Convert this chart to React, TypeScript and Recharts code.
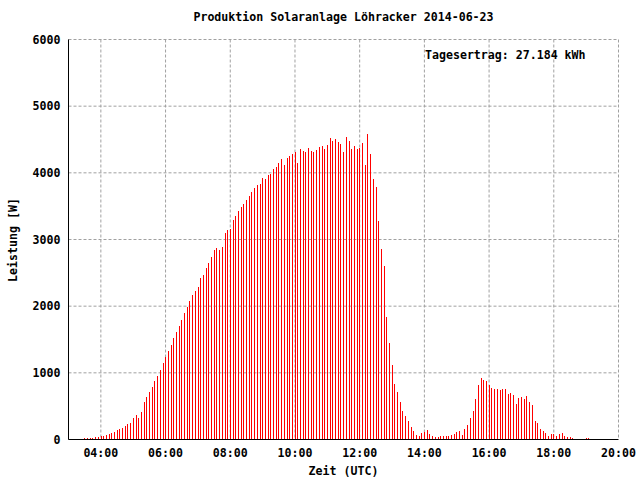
import React from 'react';
import { ComposedChart, Bar, XAxis, YAxis, CartesianGrid } from 'recharts';

const TITLE = 'Produktion Solaranlage Löhracker 2014-06-23';
const DAILY_YIELD = 'Tagesertrag: 27.184 kWh';
const X_TITLE = 'Zeit (UTC)';
const Y_TITLE = 'Leistung [W]';

const TIMES = [
  '03:30', '03:35', '03:40', '03:45', '03:50', '03:55',
  '04:00', '04:05', '04:10', '04:15', '04:20', '04:25', '04:30', '04:35', '04:40', '04:45', '04:50', '04:55',
  '05:00', '05:05', '05:10', '05:15', '05:20', '05:25', '05:30', '05:35', '05:40', '05:45', '05:50', '05:55',
  '06:00', '06:05', '06:10', '06:15', '06:20', '06:25', '06:30', '06:35', '06:40', '06:45', '06:50', '06:55',
  '07:00', '07:05', '07:10', '07:15', '07:20', '07:25', '07:30', '07:35', '07:40', '07:45', '07:50', '07:55',
  '08:00', '08:05', '08:10', '08:15', '08:20', '08:25', '08:30', '08:35', '08:40', '08:45', '08:50', '08:55',
  '09:00', '09:05', '09:10', '09:15', '09:20', '09:25', '09:30', '09:35', '09:40', '09:45', '09:50', '09:55',
  '10:00', '10:05', '10:10', '10:15', '10:20', '10:25', '10:30', '10:35', '10:40', '10:45', '10:50', '10:55',
  '11:00', '11:05', '11:10', '11:15', '11:20', '11:25', '11:30', '11:35', '11:40', '11:45', '11:50', '11:55',
  '12:00', '12:05', '12:10', '12:15', '12:20', '12:25', '12:30', '12:35', '12:40', '12:45', '12:50', '12:55',
  '13:00', '13:05', '13:10', '13:15', '13:20', '13:25', '13:30', '13:35', '13:40', '13:45', '13:50', '13:55',
  '14:00', '14:05', '14:10', '14:15', '14:20', '14:25', '14:30', '14:35', '14:40', '14:45', '14:50', '14:55',
  '15:00', '15:05', '15:10', '15:15', '15:20', '15:25', '15:30', '15:35', '15:40', '15:45', '15:50', '15:55',
  '16:00', '16:05', '16:10', '16:15', '16:20', '16:25', '16:30', '16:35', '16:40', '16:45', '16:50', '16:55',
  '17:00', '17:05', '17:10', '17:15', '17:20', '17:25', '17:30', '17:35', '17:40', '17:45', '17:50', '17:55',
  '18:00', '18:05', '18:10', '18:15', '18:20', '18:25', '18:30', '18:35', '18:40', '18:45', '18:50', '18:55',
  '19:00', '19:05', '19:10',
];

const POWER_W = [
  20, 20, 20, 20, 35, 35,
  55, 60, 75, 90, 105, 120, 140, 165, 180, 210, 235, 255,
  330, 375, 330, 420, 570, 645, 720, 795, 885, 960, 1047, 1152,
  1242, 1332, 1421, 1526, 1616, 1706, 1795, 1900, 1990, 2080, 2170, 2229,
  2289, 2424, 2469, 2573, 2648, 2738, 2843, 2873, 2843, 2888, 3097, 3150,
  3162, 3291, 3351, 3426, 3486, 3530, 3590, 3650, 3710, 3770, 3815, 3830,
  3920, 3905, 3965, 3980, 4055, 4085, 4145, 4205, 4115, 4220, 4250, 4280,
  4310, 4145, 4355, 4325, 4310, 4370, 4324, 4309, 4339, 4384, 4399, 4354,
  4414, 4518, 4474, 4504, 4459, 4429, 4309, 4533, 4474, 4354, 4399, 4354,
  4369, 4444, 4115, 4578, 4279, 3905, 3785, 3277, 2857, 2603, 1840, 1451,
  1122, 838, 718, 568, 434, 359, 284, 194, 135, 75, 60, 105,
  120, 150, 90, 60, 45, 45, 60, 60, 60, 60, 75, 90,
  120, 135, 75, 165, 224, 329, 434, 613, 823, 928, 898, 883,
  823, 778, 763, 763, 748, 763, 763, 688, 703, 673, 539, 628,
  643, 613, 658, 568, 524, 284, 254, 165, 135, 105, 60, 90,
  90, 60, 90, 105, 60, 45, 45, 30, 15, 15, 15, 15,
  30, 30, 15,
];

const X_DOMAIN = ['03:00', '20:00'];
const X_MAJOR_TICKS = ['04:00', '06:00', '08:00', '10:00', '12:00', '14:00', '16:00', '18:00', '20:00'];
const X_MINOR_TICKS = ['05:00', '07:00', '09:00', '11:00', '13:00', '15:00', '17:00', '19:00'];
const Y_TICKS = [0, 1000, 2000, 3000, 4000, 5000, 6000];

const toMin = (s: string) => {
  const [h, m] = s.split(':').map(Number);
  return h * 60 + m;
};
const fmt = (v: number) =>
  `${String(Math.floor(v / 60)).padStart(2, '0')}:${String(v % 60).padStart(2, '0')}`;

const data = TIMES.map((t, i) => ({ t: toMin(t), w: POWER_W[i] }));
const xDomain = X_DOMAIN.map(toMin);
const xMajor = X_MAJOR_TICKS.map(toMin);
const xMinor = X_MINOR_TICKS.map(toMin);

const FONT = "'DejaVu Sans Mono', 'Liberation Mono', monospace";
const FS = 11.6;

const Impulse = (props: any) => {
  const { x, y, width, height } = props;
  if (height == null || !(height > 0)) return null;
  const cx = Math.floor(x + width / 2);
  return <rect x={cx} y={y} width={1} height={height} fill="#ff0000" shapeRendering="crispEdges" />;
};

const textStyle: React.CSSProperties = {
  position: 'absolute',
  fontFamily: FONT,
  fontSize: FS,
  fontWeight: 'bold',
  color: '#000',
  whiteSpace: 'nowrap',
  lineHeight: 1,
};

export default function App() {
  const tickFont = { fontFamily: FONT, fontSize: FS, fontWeight: 'bold', fill: '#000' } as any;
  return (
    <div style={{ position: 'absolute', left: 0, top: 0, width: 640, height: 480, background: '#fff' }}>
      <ComposedChart
        width={640}
        height={480}
        data={data}
        margin={{ top: 39.5, right: 21.5, bottom: 0, left: 0 }}
      >
        <CartesianGrid
          xAxisId="main"
          yAxisId="main"
          stroke="#a0a0a0"
          strokeDasharray="3 2"
          verticalPoints={undefined}
        />
        <XAxis
          xAxisId="main"
          dataKey="t"
          type="number"
          domain={xDomain}
          allowDataOverflow
          ticks={xMajor}
          interval={0}
          tickFormatter={fmt}
          height={40.5}
          tickLine={false}
          tickSize={0}
          tickMargin={9}
          axisLine={{ stroke: '#000' }}
          tick={tickFont}
        />
        <XAxis
          xAxisId="bmaj"
          type="number"
          domain={xDomain}
          allowDataOverflow
          orientation="bottom"
          mirror
          height={0}
          ticks={xMajor}
          interval={0}
          tick={false}
          tickSize={5}
          tickLine={{ stroke: '#000' }}
          axisLine={false}
        />
        <XAxis
          xAxisId="bmin"
          type="number"
          domain={xDomain}
          allowDataOverflow
          orientation="bottom"
          mirror
          height={0}
          ticks={xMinor}
          interval={0}
          tick={false}
          tickSize={3}
          tickLine={{ stroke: '#000' }}
          axisLine={false}
        />
        <XAxis
          xAxisId="tmaj"
          type="number"
          domain={xDomain}
          allowDataOverflow
          orientation="top"
          mirror
          height={0}
          ticks={xMajor}
          interval={0}
          tick={false}
          tickSize={5}
          tickLine={{ stroke: '#000' }}
          axisLine={{ stroke: '#000' }}
        />
        <XAxis
          xAxisId="tmin"
          type="number"
          domain={xDomain}
          allowDataOverflow
          orientation="top"
          mirror
          height={0}
          ticks={xMinor}
          interval={0}
          tick={false}
          tickSize={3}
          tickLine={{ stroke: '#000' }}
          axisLine={false}
        />
        <YAxis
          yAxisId="main"
          type="number"
          domain={[0, 6000]}
          allowDataOverflow
          ticks={Y_TICKS}
          interval={0}
          width={68.5}
          tickLine={false}
          tickSize={0}
          tickMargin={8}
          axisLine={{ stroke: '#000' }}
          tick={tickFont}
        />
        <YAxis
          yAxisId="lmaj"
          type="number"
          domain={[0, 6000]}
          allowDataOverflow
          orientation="left"
          mirror
          width={0}
          ticks={Y_TICKS}
          interval={0}
          tick={false}
          tickSize={5}
          tickLine={{ stroke: '#000' }}
          axisLine={false}
        />
        <YAxis
          yAxisId="rmaj"
          type="number"
          domain={[0, 6000]}
          allowDataOverflow
          orientation="right"
          mirror
          width={0}
          ticks={Y_TICKS}
          interval={0}
          tick={false}
          tickSize={5}
          tickLine={{ stroke: '#000' }}
          axisLine={{ stroke: '#000' }}
        />
        <Bar
          xAxisId="main"
          yAxisId="main"
          dataKey="w"
          barSize={1}
          fill="#ff0000"
          shape={Impulse}
          isAnimationActive={false}
        />
      </ComposedChart>
      <div style={{ ...textStyle, left: 343.5, top: 18, transform: 'translate(-50%, -50%)' }}>{TITLE}</div>
      <div style={{ ...textStyle, left: 425, top: 56, transform: 'translate(0, -50%)' }}>{DAILY_YIELD}</div>
      <div style={{ ...textStyle, left: 343.5, top: 472, transform: 'translate(-50%, -50%)' }}>{X_TITLE}</div>
      <div style={{ ...textStyle, left: 14, top: 240, transform: 'translate(-50%, -50%) rotate(-90deg)' }}>{Y_TITLE}</div>
    </div>
  );
}
